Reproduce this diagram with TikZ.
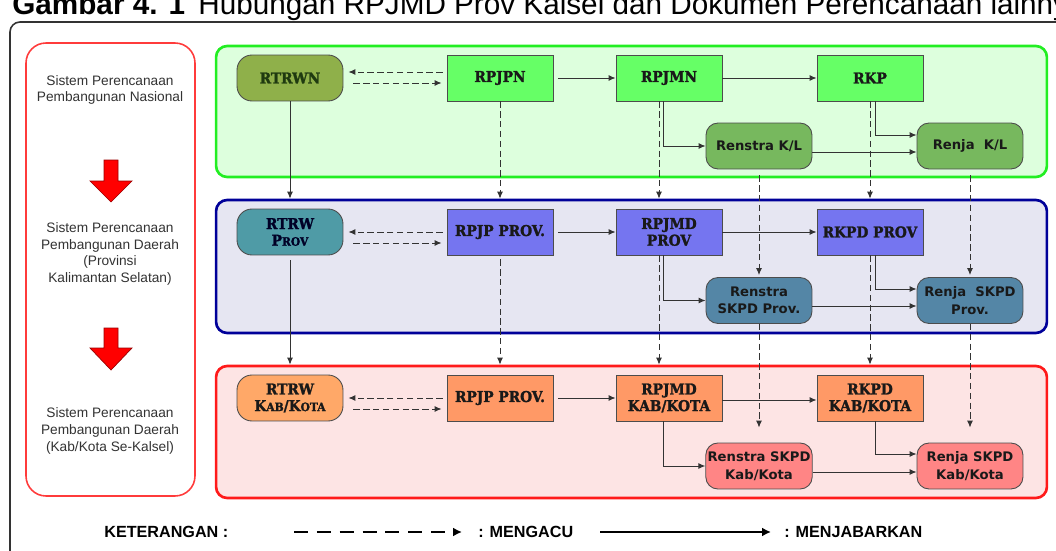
\documentclass[tikz,border=0pt]{standalone}
\usepackage{fontspec}
\setmainfont{Liberation Sans}
\newfontfamily\titlefont{DejaVu Serif}[FakeStretch=0.92, BoldFeatures={FakeBold=1.6}]
\newfontfamily\docfont{DejaVu Sans}
\usetikzlibrary{arrows.meta}

\definecolor{natborder}{HTML}{22EE22}
\definecolor{natbg}{HTML}{DDFFDD}
\definecolor{provborder}{HTML}{000099}
\definecolor{provbg}{HTML}{E6E6F2}
\definecolor{kabborder}{HTML}{FF1A1A}
\definecolor{kabbg}{HTML}{FDE4E4}
\definecolor{rtrwnfill}{HTML}{8FB04A}
\definecolor{rtrwntext}{HTML}{1F3A10}
\definecolor{natfill}{HTML}{66FF66}
\definecolor{klfill}{HTML}{77B85E}
\definecolor{rtrwprovfill}{HTML}{4F9BA6}
\definecolor{provfill}{HTML}{7575F0}
\definecolor{skpdprovfill}{HTML}{5486A6}
\definecolor{rtrwkabfill}{HTML}{FFA868}
\definecolor{kabfill}{HTML}{FF9966}
\definecolor{skpdkabfill}{HTML}{FF8585}
\definecolor{frameline}{HTML}{333333}
\definecolor{sidered}{HTML}{FF3B3B}

\begin{document}
\begin{tikzpicture}[
            x=0.02cm, y=-0.02cm,
            panel/.style={line width=1.5pt, rounded corners=0.22cm, minimum width=16.62cm},
            plan/.style={draw=black!70, line width=0.5pt, minimum width=2.12cm, minimum height=0.92cm,
                inner sep=1pt, align=center, text=black!90,
                font=\titlefont\bfseries\fontsize{8.5}{9.5}\selectfont},
            spatial/.style={plan, rounded corners=0.3cm},
            derived/.style={plan, rounded corners=0.24cm, font=\docfont\bfseries\fontsize{7.5}{10}\selectfont},
            link/.style={draw=black!80, line width=0.55pt, -{Latex[length=4pt,width=3.4pt]}},
            refer/.style={link, dash pattern=on 3.6pt off 2pt},
            side/.style={align=center, text=black!80, font=\fontsize{7.8}{9.6}\selectfont},
            key/.style={anchor=west, inner sep=0pt, font=\bfseries\fontsize{9.2}{10}\selectfont}
        ]
            \clip (0,0) rectangle (1056,551);

            % caption and frame
            \node[anchor=base west, inner sep=0pt, font=\fontsize{16.9}{18}\selectfont] (caption) at (12,14)
                {\textbf{Gambar 4. 1}\hspace{0.45em}Hubungan RPJMD Prov Kalsel dan Dokumen Perencanaan lainnya};
            \draw[frameline, line width=0.9pt, rounded corners=0.2cm] (10,580) -- (10,22) -- (1090,22);

            % left column
            \draw[sidered, line width=0.9pt, rounded corners=0.4cm, fill=white] (26,43) rectangle (195,496);
            \node[side] (national) at (110,90) {Sistem Perencanaan\\Pembangunan Nasional};
            \node[side] (provincial) at (110,254) {Sistem Perencanaan\\Pembangunan Daerah\\(Provinsi\\Kalimantan Selatan)};
            \node[side] (regency) at (110,431) {Sistem Perencanaan\\Pembangunan Daerah\\(Kab/Kota Se-Kalsel)};
            \filldraw[fill=red, draw=red!60!black, line width=0.4pt]
                (104,160) -- (118,160) -- (118,181) -- (132,181) -- (111,202) -- (90,181) -- (104,181) -- cycle;
            \filldraw[fill=red, draw=red!60!black, line width=0.4pt]
                (104,328) -- (118,328) -- (118,348) -- (132,348) -- (111,370) -- (90,348) -- (104,348) -- cycle;

            % panels
            \node[panel, draw=natborder, fill=natbg, minimum height=2.62cm] (natpanel) at (631.5,111.5) {};
            \node[panel, draw=provborder, fill=provbg, minimum height=2.66cm] (provpanel) at (631.5,266.5) {};
            \node[panel, draw=kabborder, fill=kabbg, minimum height=2.64cm] (kabpanel) at (631.5,432) {};

            % national level
            \node[spatial, fill=rtrwnfill, text=rtrwntext] (rtrwn) at (290,78) {RTRWN};
            \node[plan, fill=natfill] (rpjpn) at (500,78) {RPJPN};
            \node[plan, fill=natfill] (rpjmn) at (669,78) {RPJMN};
            \node[plan, fill=natfill] (rkp) at (870,78) {RKP};
            \node[derived, fill=klfill] (renstrakl) at (759,146) {Renstra K/L};
            \node[derived, fill=klfill] (renjakl) at (970,146) {Renja~~K/L};

            % province level
            \node[spatial, fill=rtrwprovfill, text=black!85!blue] (rtrwprov) at (290,232)
                {RTRW\\P{\fontsize{6.6}{8}\selectfont ROV}};
            \node[plan, fill=provfill] (rpjpprov) at (500,232) {RPJP PROV.};
            \node[plan, fill=provfill] (rpjmdprov) at (669,232) {RPJMD\\PROV};
            \node[plan, fill=provfill] (rkpdprov) at (870,232) {RKPD PROV};
            \node[derived, fill=skpdprovfill] (renstraprov) at (759,300.5) {Renstra\\SKPD Prov.};
            \node[derived, fill=skpdprovfill] (renjaprov) at (970,300.5) {Renja~~SKPD\\Prov.};

            % regency level
            \node[spatial, fill=rtrwkabfill] (rtrwkab) at (290,398)
                {RTRW\\K{\fontsize{6.6}{8}\selectfont AB}/K{\fontsize{6.6}{8}\selectfont OTA}};
            \node[plan, fill=kabfill] (rpjpkab) at (500,398) {RPJP PROV.};
            \node[plan, fill=kabfill] (rpjmdkab) at (669,398) {RPJMD\\KAB/KOTA};
            \node[plan, fill=kabfill] (rkpdkab) at (870,398) {RKPD\\KAB/KOTA};
            \node[derived, fill=skpdkabfill] (renstrakab) at (759,466) {Renstra SKPD\\Kab/Kota};
            \node[derived, fill=skpdkabfill] (renjakab) at (970,466) {Renja SKPD\\Kab/Kota};

            % national links
            \draw[refer] ([xshift=-0.08cm,yshift=0.12cm]rpjpn.west) -- ([xshift=0.1cm,yshift=0.12cm]rtrwn.east);
            \draw[refer] ([xshift=0.2cm,yshift=-0.1cm]rtrwn.east) -- ([xshift=-0.1cm,yshift=-0.1cm]rpjpn.west);
            \draw[link] ([xshift=0.1cm]rpjpn.east) -- (rpjmn.west);
            \draw[link] (rpjmn.east) -- (rkp.west);
            \draw[link] ([xshift=-0.12cm]rpjmn.south) |- (renstrakl.west);
            \draw[link] ([xshift=0.1cm]rkp.south) |- ([yshift=0.22cm]renjakl.west);
            \draw[link] ([yshift=-0.12cm]renstrakl.east) -- ([yshift=-0.12cm]renjakl.west);

            % national to province
            \draw[link] (rtrwn.south) -- (rtrwn.south |- provpanel.north);
            \draw[refer] (rpjpn.south) -- (rpjpn.south |- provpanel.north);
            \draw[refer] ([xshift=-0.2cm]rpjmn.south) -- ([xshift=-0.2cm]rpjmn.south |- provpanel.north);
            \draw[refer] (rkp.south) -- (rkp.south |- provpanel.north);
            \draw[refer] ([yshift=-0.12cm]renstrakl.south) -- ([yshift=0.04cm]renstraprov.north);
            \draw[refer] ([yshift=-0.12cm]renjakl.south) -- ([yshift=0.04cm]renjaprov.north);

            % province links
            \draw[refer] ([xshift=-0.08cm]rpjpprov.west) -- ([xshift=0.1cm]rtrwprov.east);
            \draw[refer] ([xshift=0.2cm,yshift=-0.22cm]rtrwprov.east) -- ([xshift=-0.1cm,yshift=-0.22cm]rpjpprov.west);
            \draw[link] ([xshift=0.1cm]rpjpprov.east) -- (rpjmdprov.west);
            \draw[link] (rpjmdprov.east) -- (rkpdprov.west);
            \draw[link] ([xshift=-0.12cm]rpjmdprov.south) |- (renstraprov.west);
            \draw[link] ([xshift=0.1cm]rkpdprov.south) |- ([yshift=0.23cm]renjaprov.west);
            \draw[link] ([yshift=-0.11cm]renstraprov.east) -- ([yshift=-0.11cm]renjaprov.west);

            % province to regency
            \draw[link] ([yshift=-0.1cm]rtrwprov.south) -- (rtrwprov.south |- kabpanel.north);
            \draw[refer] ([yshift=-0.08cm]rpjpprov.south) -- (rpjpprov.south |- kabpanel.north);
            \draw[refer] ([xshift=-0.2cm]rpjmdprov.south) -- ([xshift=-0.2cm]rpjmdprov.south |- kabpanel.north);
            \draw[refer] (rkpdprov.south) -- (rkpdprov.south |- kabpanel.north);
            \draw[refer] (renstraprov.south) -- ([yshift=0.3cm]renstrakab.north);
            \draw[refer] (renjaprov.south) -- ([yshift=0.3cm]renjakab.north);

            % regency links
            \draw[refer] ([xshift=-0.08cm]rpjpkab.west) -- ([xshift=0.1cm]rtrwkab.east);
            \draw[refer] ([xshift=0.2cm,yshift=-0.22cm]rtrwkab.east) -- ([xshift=-0.1cm,yshift=-0.22cm]rpjpkab.west);
            \draw[link] ([xshift=0.1cm]rpjpkab.east) -- (rpjmdkab.west);
            \draw[link] ([yshift=-0.04cm]rpjmdkab.east) -- ([yshift=-0.04cm]rkpdkab.west);
            \draw[link] ([xshift=-0.12cm]rpjmdkab.south) |- (renstrakab.west);
            \draw[link] ([xshift=0.1cm]rkpdkab.south) |- ([yshift=0.24cm]renjakab.west);
            \draw[link] ([yshift=-0.12cm]renstrakab.east) -- ([yshift=-0.12cm]renjakab.west);

            % legend
            \node[key] (keyhead) at (104,532) {KETERANGAN :};
            \coordinate (referstart) at (294,532);
            \node[key] (referkey) at (478,532) {: MENGACU};
            \coordinate (derivestart) at (600,532);
            \node[key] (derivekey) at (784,532) {: MENJABARKAN};
            \draw[draw=black, line width=1.6pt, dash pattern=on 8pt off 5pt, -{Latex[length=5pt,width=5pt]}]
                (referstart) -- ([xshift=-0.32cm]referkey.west);
            \draw[draw=black, line width=1.4pt, -{Latex[length=5pt,width=5pt]}]
                (derivestart) -- ([xshift=-0.26cm]derivekey.west);
        \end{tikzpicture}
\end{document}
